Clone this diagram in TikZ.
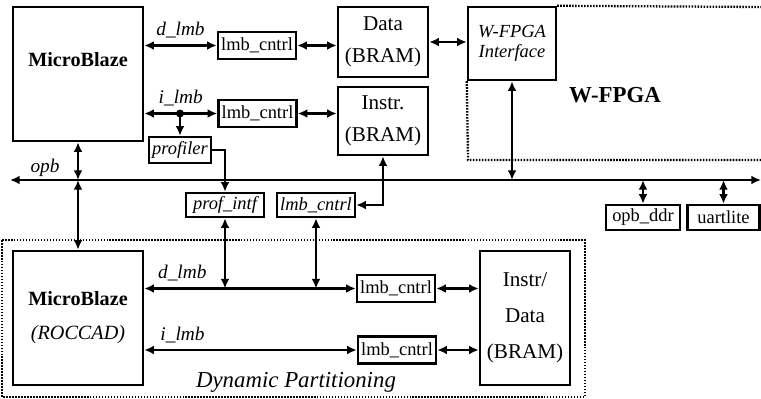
\documentclass[tikz,border=0pt]{standalone}
\usepackage{fontspec}
\setmainfont{Liberation Serif}
\usetikzlibrary{arrows.meta,positioning}

\begin{document}
\begin{tikzpicture}[x=0.02cm,y=-0.02cm,>={Latex[length=5.5pt,width=5pt]},align=center,
block/.style={rectangle,draw,line width=1.4pt,inner sep=0pt},
cpu/.style={block,minimum width=2.6cm,minimum height=2.68cm,font=\fontsize{11.5}{19.5}\selectfont\bfseries},
cntrl/.style={block,minimum width=1.56cm,minimum height=0.54cm,font=\fontsize{10.5}{12}\selectfont},
bram/.style={block,minimum width=1.8cm,font=\fontsize{12}{18.5}\selectfont},
link/.style={<->,line width=1.4pt},
bus/.style={<->,line width=1.6pt},
region/.style={line width=1.3pt,dash pattern=on 0.9pt off 0.8pt},
buslabel/.style={font=\fontsize{11}{13}\selectfont\itshape}
]
\useasboundingbox (0,0) rectangle (761,399);

%% Nodes   %%%%%%%%%%%%%%%%%%%%%%%%%%%%%%%%%%%%%%%%%%%%%%%%%%%%%%%%%%%%%%%%%%%%%%%

%% Static part
\node [cpu] (MB) at (78,74) {};
\node [font=\fontsize{11.5}{13}\selectfont\bfseries] (MBtxt) at (78,60) {MicroBlaze};
\node [cntrl] (LMB1) at (257,45.5)  {lmb\_cntrl};
\node [cntrl] (LMB2) at (257.5,113.5) {lmb\_cntrl};
\node [bram,minimum height=1.4cm] (DATA) at (383,42) {Data\\(BRAM)};
\node [bram,minimum height=1.36cm] (INSTR) at (383,121) {Instr.\\(BRAM)};
\node [block,minimum width=1.76cm,minimum height=1.46cm,
       font=\fontsize{10.5}{11.5}\selectfont\itshape] (WIF) at (512,43.5) {W-FPGA\\Interface};
\node [block,minimum width=1.24cm,minimum height=0.52cm,
       font=\fontsize{10.5}{12}\selectfont\itshape] (PROF) at (180,150) {profiler};

%% Bus
\coordinate (OPBl) at (10,180);
\coordinate (OPBr) at (761,180);
\node [buslabel] (OPB) at (45,168) {opb};

\node [cntrl,minimum height=0.48cm,font=\fontsize{10.5}{12}\selectfont\itshape] (PINTF) at (225,205) {prof\_intf};
\node [cntrl,minimum height=0.48cm,font=\fontsize{10.5}{12}\selectfont\itshape] (LMBI) at (316,205) {lmb\_cntrl};
\node [cntrl,minimum width=1.48cm,minimum height=0.5cm] (DDR) at (643,217.5) {opb\_ddr};
\node [cntrl,minimum width=1.44cm,minimum height=0.5cm] (UART) at (723.5,217.5) {uartlite};

%% Dynamic part
\node [cpu] (MB2) at (78,318) {MicroBlaze\\{\normalfont\itshape (ROCCAD)}};
\node [cntrl] (LMB3) at (396,288.5) {lmb\_cntrl};
\node [cntrl] (LMB4) at (397,350)   {lmb\_cntrl};
\node [bram,minimum height=2.68cm,font=\fontsize{12}{20.5}\selectfont] (IDB) at (525,318) {Instr/\\Data\\(BRAM)};

%% Pfade %%%%%%%%%%%%%%%%%%%%%%%%%%%%%%%%%%%%%%%%%%%%%%%%%%%%%%%%%%%%%%%%%%%%%%%%%%%

%% local memory busses
\draw [link] (MB.east |- LMB1.west) to node [above,buslabel] {d\_lmb} (LMB1.west);
\draw [link] (MB.east |- LMB2.west) to node [above,buslabel] {i\_lmb} (LMB2.west);
\draw [link] (LMB1.east) to (DATA.west |- LMB1.east);
\draw [link] (LMB2.east) to (INSTR.west |- LMB2.east);
\draw [link] (DATA.east) to (WIF.west |- DATA.east);

%% profiler
\coordinate (TAP) at (PROF.north |- LMB2.west);
\fill (TAP) circle (4);
\draw [->,line width=1.4pt] (TAP) to (PROF.north);
\draw [->,line width=1.4pt] (PROF.east) -| (PINTF.north);

%% opb
\draw [bus] (OPBl) to (OPBr);
\foreach \x in {MB,WIF}
\draw [link] (\x.south) to (\x.south |- OPBl);
\foreach \x in {DDR,UART}
\draw [link] (\x.north) to (\x.north |- OPBl);
\draw [link] (MB.south |- OPBl) to (MB2.north);
\draw [link] (LMBI.east) -| (INSTR.south);

%% dynamic partitioning busses
\draw [link] (MB2.east |- LMB3.west) to node [above,pos=0.18,buslabel] {d\_lmb} (LMB3.west);
\draw [link] (MB2.east |- LMB4.west) to node [above,pos=0.18,buslabel] {i\_lmb} (LMB4.west);
\foreach \x in {PINTF,LMBI}
\draw [link] (\x.south) to (\x.south |- LMB3.west);
\draw [link] (LMB3.east) to (IDB.west |- LMB3.east);
\draw [link] (LMB4.east) to (IDB.west |- LMB4.east);

%% Regions & Text %%%%%%%%%%%%%%%%%%%%%%%%%%%%%%%%%%%%%%%%%%%%%%%%%%%%%%%%%%%%%%%%%%%
\coordinate (WFtr) at (761,7);
\coordinate (WFbl) at (468,160);
\coordinate (WFbr) at (761,160);
\draw [region] (WIF.north east) -- (WFtr);
\draw [region] (WIF.south west) -- (WFbl) -- (WFbr);
\node [font=\fontsize{13}{15}\selectfont\bfseries] (WF) at (615,95) {W-FPGA};

\coordinate (DPtl) at (2,240);
\coordinate (DPbr) at (585,397);
\draw [region] (DPtl) rectangle (DPbr);
\node [font=\fontsize{13}{15}\selectfont\itshape] (DP) at (296,382) {Dynamic Partitioning};

\end{tikzpicture}
\end{document}
